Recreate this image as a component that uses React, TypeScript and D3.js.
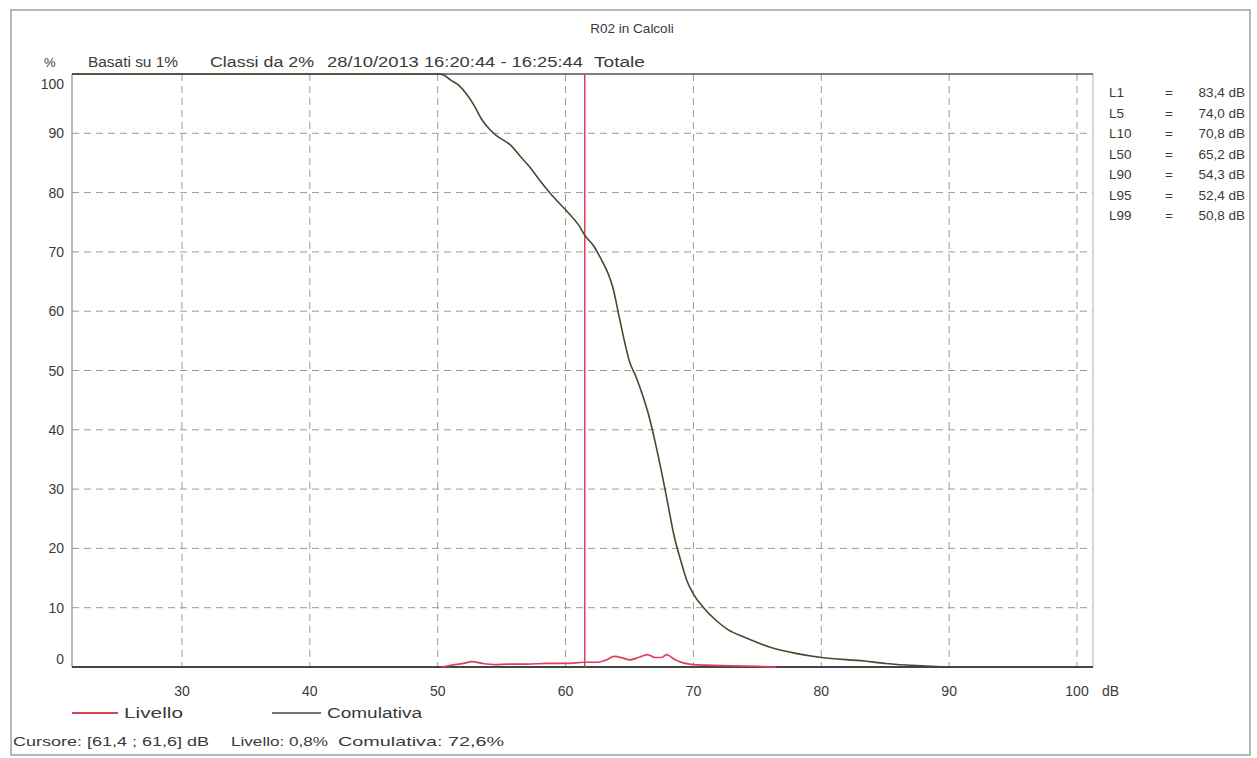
import React from "react";
import * as d3 from "d3";

const title = "R02 in Calcoli";
const subtitleParts = [
  { text: "Basati su 1%", x: 88, w: 90 },
  { text: "Classi da 2%", x: 210, w: 104 },
  { text: "28/10/2013 16:20:44 - 16:25:44", x: 327, w: 256 },
  { text: "Totale", x: 594, w: 51 },
];
const xTicks = [30, 40, 50, 60, 70, 80, 90, 100];
const yTicks = [0, 10, 20, 30, 40, 50, 60, 70, 80, 90, 100];
const xDomain = [21.4, 101.25];

// Cumulativa: [dB, %]
const cumDb = [21.4, 50.0, 50.5, 51.0, 51.7, 52.3, 52.9, 53.4, 54.0, 54.6, 55.7, 56.5, 57.2, 58.0, 58.8, 59.6, 60.3, 61.0, 61.5, 62.2, 62.7, 63.3, 63.7, 64.2, 64.6, 65.0, 65.5, 66.0, 66.5, 67.0, 67.5, 68.0, 68.5, 69.0, 69.5, 70.0, 70.8, 71.8, 72.7, 74.0, 76.2, 78.0, 80.0, 83.4, 85.0, 87.0, 89.0, 90.0, 101.25];
const cumPct = [100, 100, 99.8, 99, 98, 96.5, 94.5, 92.5, 90.8, 89.6, 88.0, 86, 84.3, 82, 79.9, 78, 76.4, 74.6, 72.8, 71, 69.1, 66.5, 64, 59, 55, 51.5, 49, 46, 42.5, 38, 33, 27.5, 22, 18, 14.5, 12.3, 10, 7.8, 6.3, 5.0, 3.2, 2.3, 1.6, 1.0, 0.6, 0.3, 0.08, 0, 0];

// Livello: [dB, %]
const livDb = [50.3, 51.0, 52.0, 52.7, 53.5, 54.5, 55.5, 57.0, 58.5, 60.0, 61.5, 62.5, 63.2, 63.8, 64.5, 65.0, 65.7, 66.4, 67.0, 67.5, 67.9, 68.5, 69.2, 70.0, 71.0, 73.0, 75.0, 76.5];
const livPct = [0, 0.3, 0.6, 0.9, 0.6, 0.4, 0.5, 0.5, 0.6, 0.6, 0.8, 0.8, 1.2, 1.8, 1.5, 1.2, 1.6, 2.1, 1.6, 1.6, 2.1, 1.3, 0.7, 0.4, 0.3, 0.2, 0.1, 0];

const cursorDb = 61.5;
const statLabels = ["L1", "L5", "L10", "L50", "L90", "L95", "L99"];
const statValues = ["83,4 dB", "74,0 dB", "70,8 dB", "65,2 dB", "54,3 dB", "52,4 dB", "50,8 dB"];
const legendLabels = ["Livello", "Comulativa"];
const cursorParts = [
  { text: "Cursore: [61,4 ; 61,6] dB", x: 13, w: 196 },
  { text: "Livello: 0,8%", x: 231, w: 97 },
  { text: "Comulativa: 72,6%", x: 338, w: 166 },
];

const RED = "#dc3f5c";
const GREEN = "#3f4d2e";
const FONT = "'Liberation Sans', Arial, sans-serif";
const TXT = "#3a3a3a";

export default function App() {
  const left = 72, right = 1093, top = 74, bottom = 667;
  const x = d3.scaleLinear().domain(xDomain).range([left, right]);
  const y = d3.scaleLinear().domain([0, 100]).range([bottom, top]);
  const line = d3
    .line<[number, number]>()
    .x((d) => x(d[0]))
    .y((d) => y(d[1]))
    .curve(d3.curveMonotoneX);
  const cumPath = line(cumDb.map((v, i) => [v, cumPct[i]]) as [number, number][]) || "";
  const livPath = line(livDb.map((v, i) => [v, livPct[i]]) as [number, number][]) || "";

  const labelDy = (t: number) => (t === 0 ? -3 : t === 100 ? 15 : 5);

  return (
    <svg
      width={1257}
      height={758}
      style={{ position: "absolute", left: 0, top: 0, background: "#fff" }}
      fontFamily={FONT}
    >
      <rect x={11} y={10} width={1239} height={745} fill="#fff" stroke="#a0a0a0" strokeWidth={1.5} />
      <text x={632} y={33} textAnchor="middle" fontSize={13.5} fill={TXT}>{title}</text>
      <text x={44} y={67} fontSize={13} fill={TXT}>%</text>
      {subtitleParts.map((p) => (
        <text key={p.text} x={p.x} y={67} fontSize={14} fill={TXT} textLength={p.w} lengthAdjust="spacingAndGlyphs">{p.text}</text>
      ))}

      {/* grid */}
      {yTicks.filter((t) => t > 0 && t < 100).map((t) => (
        <line key={"gy" + t} x1={left} x2={right} y1={y(t)} y2={y(t)} stroke="#9a9a9a" strokeDasharray="7,5" strokeWidth={1} />
      ))}
      {xTicks.map((t) => (
        <line key={"gx" + t} x1={x(t)} x2={x(t)} y1={top} y2={bottom} stroke="#9a9a9a" strokeDasharray="7,5" strokeWidth={1} />
      ))}

      {/* plot frame */}
      <line x1={left} x2={left} y1={top} y2={bottom} stroke="#8a8a8a" strokeWidth={1.2} />
      <line x1={right} x2={right} y1={top} y2={bottom} stroke="#b0b0b0" strokeWidth={1} />
      <line x1={left} x2={right} y1={top} y2={top} stroke="#555" strokeWidth={1.5} />
      <line x1={left} x2={right} y1={bottom} y2={bottom} stroke="#444" strokeWidth={2} />

      {/* tick labels */}
      {yTicks.map((t) => (
        <text key={"ty" + t} x={64} y={y(t) + labelDy(t)} textAnchor="end" fontSize={14} fill={TXT}>{t}</text>
      ))}
      {xTicks.map((t) => (
        <text key={"tx" + t} x={x(t)} y={696} textAnchor="middle" fontSize={14} fill={TXT}>{t}</text>
      ))}
      <text x={1102} y={696} fontSize={14} fill={TXT}>dB</text>

      {/* series */}
      <path d={livPath} fill="none" stroke={RED} strokeWidth={1.7} />
      <line x1={x(cursorDb)} x2={x(cursorDb)} y1={bottom} y2={top} stroke={RED} strokeWidth={1.5} />
      <path d={cumPath} fill="none" stroke={GREEN} strokeWidth={1.6} />

      {/* stats */}
      {statLabels.map((s, i) => (
        <g key={s}>
          <text x={1109} y={97 + i * 20.5} fontSize={13.5} fill={TXT}>{s}</text>
          <text x={1165} y={97 + i * 20.5} fontSize={13.5} fill={TXT}>=</text>
          <text x={1245} y={97 + i * 20.5} textAnchor="end" fontSize={13.5} fill={TXT}>{statValues[i]}</text>
        </g>
      ))}

      {/* legend */}
      <line x1={72} x2={118} y1={713} y2={713} stroke={RED} strokeWidth={2} />
      <text x={124} y={718} fontSize={14} fill={TXT} textLength={59} lengthAdjust="spacingAndGlyphs">{legendLabels[0]}</text>
      <line x1={272} x2={321} y1={713} y2={713} stroke={GREEN} strokeWidth={1.5} />
      <text x={327} y={718} fontSize={14} fill={TXT} textLength={95} lengthAdjust="spacingAndGlyphs">{legendLabels[1]}</text>

      {cursorParts.map((p) => (
        <text key={p.text} x={p.x} y={746} fontSize={13} fill={TXT} textLength={p.w} lengthAdjust="spacingAndGlyphs">{p.text}</text>
      ))}
    </svg>
  );
}
